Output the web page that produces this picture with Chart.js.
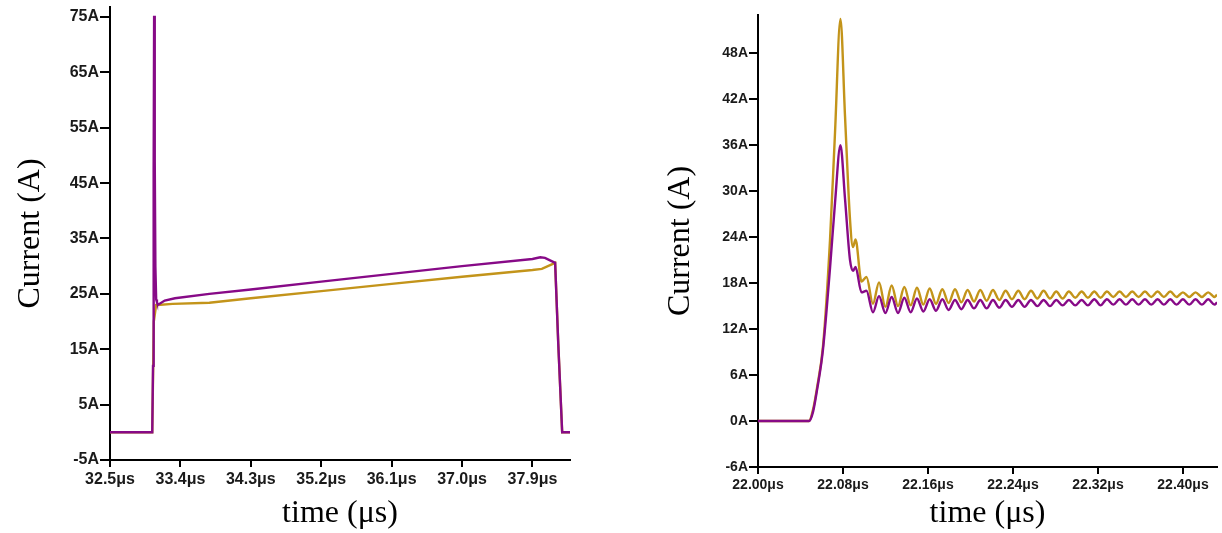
<!DOCTYPE html>
<html>
<head>
<meta charset="utf-8">
<script src="https://cdn.jsdelivr.net/npm/chart.js@4.4.1/dist/chart.umd.min.js"></script>
<style>
  html, body { margin: 0; padding: 0; background: #fff; }
  #wrap { position: relative; width: 1222px; height: 533px; overflow: hidden; }
  #left  { position: absolute; left: 0;   top: 0; }
  #right { position: absolute; left: 600px; top: 0; }
</style>
</head>
<body>
<div id="wrap">
  <canvas id="left" width="600" height="533"></canvas>
  <canvas id="right" width="622" height="533"></canvas>
</div>
<script>
'use strict';

/* ── Left panel: long pulse ── */
const leftXTicks = [32.5, 33.4, 34.3, 35.2, 36.1, 37.0, 37.9];
const leftYTicks = [-5, 5, 15, 25, 35, 45, 55, 65, 75];

const leftPurpleT = [32.5, 33.04, 33.05, 33.058, 33.064, 33.072, 33.08, 33.09, 33.1, 33.11, 33.2, 33.33, 33.77,
                     34.3, 35.2, 36.1, 37.0, 37.9, 38.0, 38.06, 38.19, 38.23, 38.28, 38.38];
const leftPurpleA = [0, 0, 12, 47, 75.2, 49, 30, 24, 23.5, 23.0, 23.8, 24.2, 25.0,
                     25.8, 27.2, 28.6, 30.0, 31.3, 31.6, 31.5, 30.6, 16, 0, 0];

const leftGoldT = [32.5, 33.04, 33.06, 33.09, 33.11, 33.3, 33.77, 34.3, 35.2, 36.1, 37.0, 37.9, 38.02,
                   38.19, 38.23, 38.28, 38.38];
const leftGoldA = [0, 0, 20, 23, 23.0, 23.2, 23.4, 24.2, 25.5, 26.8, 28.1, 29.3, 29.5,
                   30.6, 16, 0, 0];

/* ── Right panel: turn-on transient ── */
const rightXTicks = [22.00, 22.08, 22.16, 22.24, 22.32, 22.40];
const rightYTicks = [-6, 0, 6, 12, 18, 24, 30, 36, 42, 48];

const rightT = [
  22.000, 22.048, 22.0518, 22.0555, 22.0612, 22.0678, 22.0725, 22.0776, 22.0819, 22.0866,
  22.0894, 22.0918, 22.0974, 22.1021, 22.1082,
  22.1139, 22.1199, 22.1258, 22.1318, 22.1377, 22.1437, 22.1496, 22.1556, 22.1616, 22.1675,
  22.1735, 22.1794, 22.1854, 22.1914, 22.1973, 22.2033, 22.2092, 22.2152, 22.2211, 22.2271,
  22.2331, 22.2390, 22.2450, 22.2509, 22.2569, 22.2629, 22.2688, 22.2748, 22.2807, 22.2867,
  22.2926, 22.2986, 22.3046, 22.3105, 22.3165, 22.3224, 22.3284, 22.3344, 22.3403, 22.3463,
  22.3522, 22.3582, 22.3642, 22.3701, 22.3761, 22.3820, 22.3880, 22.3939, 22.3999, 22.4059,
  22.4118, 22.4178, 22.4237, 22.4297, 22.432
];
const rightGoldA = [
  0, 0, 1.5, 4.3, 9.8, 23.7, 37.7, 52.5, 39.8, 26.3,
  22.7, 23.7, 18.2, 18.8, 15.3,
  18.1, 14.9, 17.7, 15.0, 17.5, 15.1, 17.4, 15.2, 17.3, 15.3,
  17.2, 15.4, 17.2, 15.5, 17.1, 15.6, 17.1, 15.7, 17.1, 15.8,
  17.0, 15.9, 17.0, 15.9, 17.0, 16.0, 17.0, 16.0, 16.9, 16.0,
  16.9, 16.1, 16.9, 16.1, 16.9, 16.1, 16.9, 16.2, 16.9, 16.2,
  16.9, 16.2, 16.9, 16.2, 16.9, 16.2, 16.9, 16.2, 16.8, 16.2,
  16.8, 16.2, 16.8, 16.2, 16.5
];
const rightPurpleA = [
  0, 0, 1.2, 4.0, 9.4, 20.0, 28.5, 36.0, 29.0, 21.0,
  19.6, 20.1, 16.8, 17.0, 14.2,
  16.3, 14.1, 16.2, 14.1, 16.1, 14.2, 16.0, 14.3, 15.9, 14.4,
  15.9, 14.5, 15.8, 14.6, 15.8, 14.7, 15.8, 14.7, 15.8, 14.8,
  15.8, 14.9, 15.8, 14.9, 15.8, 15.0, 15.8, 15.0, 15.8, 15.1,
  15.8, 15.1, 15.8, 15.1, 15.9, 15.1, 15.9, 15.2, 15.9, 15.2,
  15.9, 15.2, 15.9, 15.2, 15.9, 15.2, 15.9, 15.2, 15.9, 15.2,
  15.9, 15.2, 15.9, 15.2, 15.5
];

const PURPLE = '#870a87';
const GOLD   = '#c3941a';
const INK    = '#1a1a1a';

function pts(ts, vs) {
  return ts.map((t, i) => ({ x: t, y: vs[i] }));
}

// order: lower number is painted on top (purple sits over gold)
function series(data, color, smooth, order) {
  return {
    data, order, borderColor: color, backgroundColor: color,
    borderWidth: 2.4, pointRadius: 0, fill: false,
    cubicInterpolationMode: smooth ? 'monotone' : 'default',
    tension: 0,
  };
}

function axisStyle(tickLen, fontSize, padding) {
  return {
    border: { display: true, color: '#000', width: 2 },
    grid: { display: true, drawOnChartArea: false, drawTicks: true, tickLength: tickLen, color: '#000', lineWidth: 2 },
    ticks: {
      color: INK, autoSkip: false, maxRotation: 0, padding,
      font: { family: 'Liberation Sans, Arial, sans-serif', weight: 'bold', size: fontSize },
    },
  };
}

function titleOpts(text, pad) {
  return {
    display: true, text, color: '#000', padding: pad,
    font: { family: 'Liberation Serif, Times New Roman, serif', size: 32, weight: 'normal' },
  };
}

function makeChart(id, cfg) {
  const xBase = axisStyle(cfg.xTickLen, cfg.fontSize, 3);
  const yBase = axisStyle(cfg.yTickLen, cfg.fontSize, cfg.yPad);
  return new Chart(document.getElementById(id), {
    type: 'line',
    data: { datasets: cfg.datasets },
    options: {
      responsive: false,
      animation: false,
      events: [],
      layout: { padding: cfg.padding },
      plugins: { legend: { display: false }, tooltip: { enabled: false } },
      scales: {
        x: {
          ...xBase, type: 'linear', min: cfg.xMin, max: cfg.xMax,
          ticks: { ...xBase.ticks, callback: v => v.toFixed(cfg.xDec) + 'μs' },
          title: titleOpts('time (μs)', { top: 0, bottom: 0 }),
          afterBuildTicks: s => { s.ticks = cfg.xTicks.map(v => ({ value: v })); },
          afterFit: s => { s.height = cfg.xHeight; s.paddingLeft = 0; s.paddingRight = 0; },
        },
        y: {
          ...yBase, type: 'linear', min: cfg.yMin, max: cfg.yMax,
          ticks: { ...yBase.ticks, callback: v => v + 'A' },
          title: titleOpts('Current (A)', { top: 4, bottom: 4 }),
          afterBuildTicks: s => { s.ticks = cfg.yTicks.map(v => ({ value: v })); },
          afterFit: s => { s.width = cfg.yWidth; s.paddingTop = 0; s.paddingBottom = 0; },
        },
      },
    },
  });
}

makeChart('left', {
  datasets: [
    series(pts(leftGoldT, leftGoldA), GOLD, false, 2),
    series(pts(leftPurpleT, leftPurpleA), PURPLE, false, 1),
  ],
  padding: { left: 7, right: 30, top: 7, bottom: 0 },
  xMin: 32.5, xMax: 38.38, xTicks: leftXTicks, xDec: 1,
  yMin: -5, yMax: 76.8, yTicks: leftYTicks,
  xHeight: 73, yWidth: 103,
  xTickLen: 7, yTickLen: 10, yPad: 1, fontSize: 16,
});

makeChart('right', {
  datasets: [
    series(pts(rightT, rightGoldA), GOLD, true, 2),
    series(pts(rightT, rightPurpleA), PURPLE, true, 1),
  ],
  padding: { left: 57, right: 5, top: 15, bottom: 0 },
  xMin: 22.0, xMax: 22.432, xTicks: rightXTicks, xDec: 2,
  yMin: -6, yMax: 53, yTicks: rightYTicks,
  xHeight: 66, yWidth: 101,
  xTickLen: 7, yTickLen: 9, yPad: 1, fontSize: 14,
});
</script>
</body>
</html>
